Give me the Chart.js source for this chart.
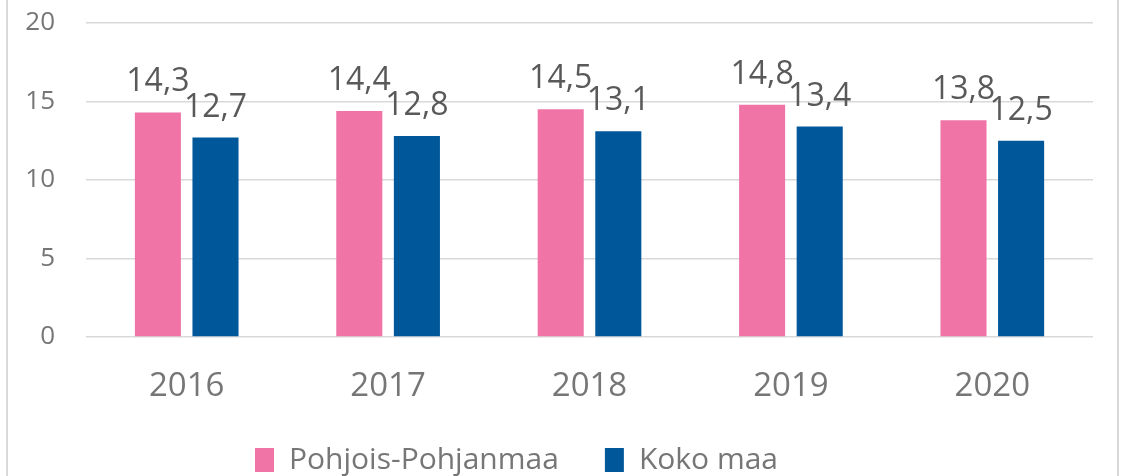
<!DOCTYPE html>
<html>
<head>
<meta charset="utf-8">
<script src="https://cdn.jsdelivr.net/npm/chart.js@4"></script>
<style>
  body { margin: 0; background: #fff; overflow: hidden; }
  #wrap { position: relative; width: 1122px; height: 476px; overflow: hidden; }
  #frame { position: absolute; left: 6px; top: -10px; width: 1113px; height: 500px;
           border: 2px solid #d9d9d9; box-sizing: border-box; }
  canvas { position: absolute; left: 0; top: 0; }
</style>
</head>
<body>
<div id="wrap">
  <div id="frame"></div>
  <canvas id="myChart" width="1122" height="476"></canvas>
</div>
<script>
var years = ["2016", "2017", "2018", "2019", "2020"];
var pohjoisPohjanmaa = [14.3, 14.4, 14.5, 14.8, 13.8];
var kokoMaa = [12.7, 12.8, 13.1, 13.4, 12.5];
var yTicks = [0, 5, 10, 15, 20];

var font = "'Open Sans', sans-serif";

// value labels above every bar, finnish decimal comma
var barLabels = {
  id: "barLabels",
  afterDatasetsDraw: function(chart) {
    var ctx = chart.ctx;
    ctx.save();
    ctx.font = "32px " + font;
    ctx.fillStyle = "#595959";
    ctx.textAlign = "center";
    ctx.textBaseline = "alphabetic";
    chart.data.datasets.forEach(function(ds, i) {
      chart.getDatasetMeta(i).data.forEach(function(bar, j) {
        var txt = ds.data[j].toFixed(1).replace(".", ",");
        ctx.fillText(txt, bar.x, bar.y - 21);
      });
    });
    ctx.restore();
  }
};

// legend sits a bit left of centre and closer to the axis
var legendShift = {
  id: "legendShift",
  afterLayout: function(chart) {
    chart.legend.left -= 30;
    chart.legend.right -= 30;
    chart.legend.top -= 18;
  }
};

var cx = document.getElementById("myChart");
var myChart = new Chart(cx, {
  type: "bar",
  data: {
    labels: years,
    datasets: [{
      label: "Pohjois-Pohjanmaa",
      data: pohjoisPohjanmaa,
      backgroundColor: "#F075A6"
    }, {
      label: "Koko maa",
      data: kokoMaa,
      backgroundColor: "#00589A"
    }]
  },
  options: {
    responsive: false,
    animation: false,
    categoryPercentage: 0.572,
    barPercentage: 0.8,
    layout: { padding: { top: 0, right: 29, left: 0, bottom: -27 } },
    plugins: {
      tooltip: { enabled: false },
      legend: {
        position: "bottom",
        labels: {
          boxWidth: 19,
          boxHeight: 24,
          padding: 46,
          color: "#767676",
          font: { family: font, size: 30 }
        }
      }
    },
    scales: {
      x: {
        grid: { display: false },
        border: { display: false },
        ticks: { color: "#767676", padding: 22, font: { family: font, size: 33 } },
        afterFit: function(s) { s.height = 80; }
      },
      y: {
        min: yTicks[0],
        max: yTicks[yTicks.length - 1],
        afterBuildTicks: function(s) {
          s.ticks = yTicks.map(function(v) { return { value: v }; });
        },
        grid: { color: "#d9d9d9", lineWidth: 1.5, drawTicks: false },
        border: { display: false },
        ticks: { color: "#767676", padding: 31, font: { family: font, size: 26 } },
        afterFit: function(s) {
          s.width = 86;
          s.paddingTop = 23;
          s.paddingBottom = 16;
        }
      }
    }
  },
  plugins: [barLabels, legendShift]
});
</script>
</body>
</html>
